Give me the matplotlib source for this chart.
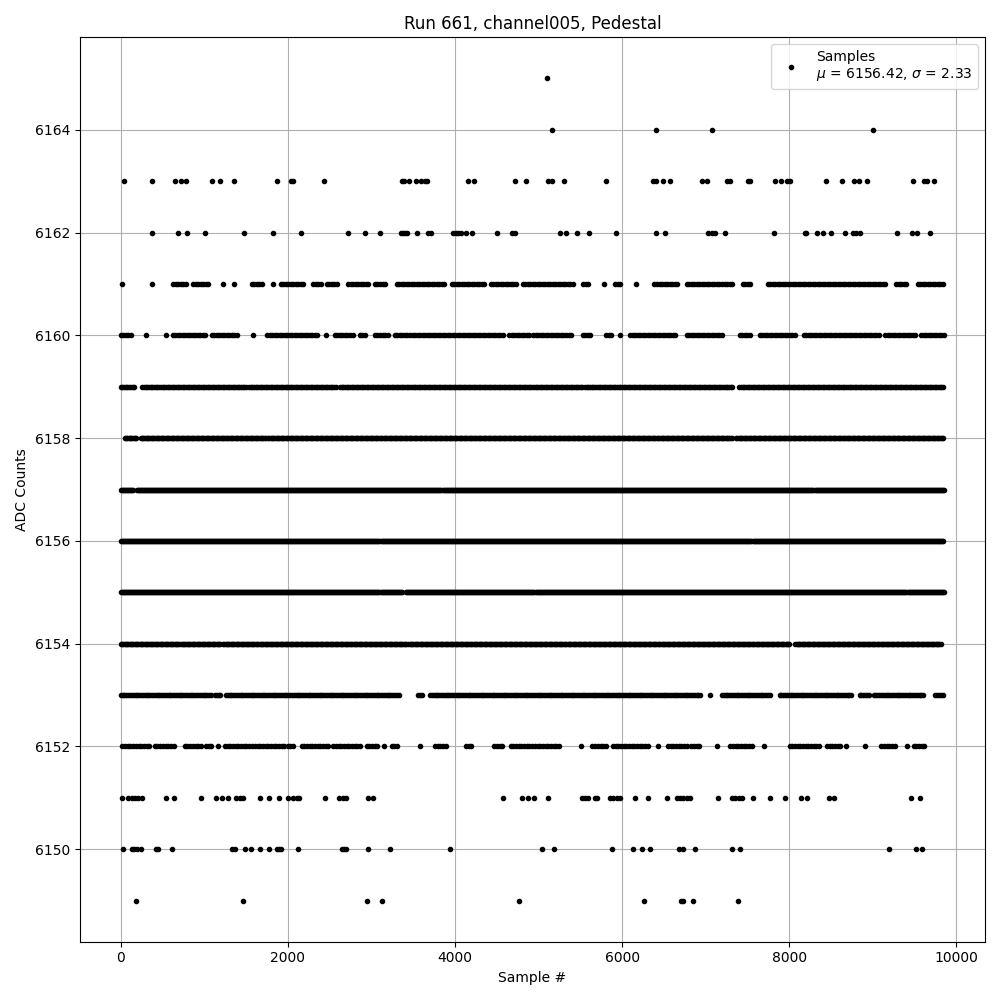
import numpy as np
from matplotlib import pyplot as plt

# ADC levels with isolated samples (sample numbers)
sparse = {
    6165: [5102],
    6164: [5162, 6407, 7078, 9006],
    6163: [40, 375, 650, 719, 778, 1094, 1189, 1357, 1872, 2032, 2064, 2435,
           3362, 3389, 3449, 3533, 3589, 3641, 3668, 4159, 4231, 4722, 4854,
           5117, 5158, 5309, 5812, 6375, 6407, 6483, 6575, 6954, 7014, 7254,
           7293, 7501, 7533, 7824, 7901, 7972, 8012, 8435, 8631, 8770, 8830,
           8931, 9477, 9608, 9649, 9737],
    6162: [375, 687, 795, 1010, 1477, 1824, 2160, 2722, 2926, 3106, 3350, 3374,
           3401, 3429, 3549, 3681, 3713, 3980, 4008, 4040, 4072, 4135, 4207,
           4507, 4687, 4722, 5261, 5333, 5465, 5608, 5932, 6411, 6507, 7022,
           7081, 7114, 7225, 7812, 8188, 8200, 8327, 8399, 8495, 8662, 8758,
           8802, 8850, 9285, 9465, 9525, 9680],
    6151: [16, 87, 128, 168, 207, 248, 535, 638, 955, 1142, 1213, 1285, 1377,
           1425, 1465, 1668, 1768, 1896, 2004, 2056, 2104, 2131, 2447, 2615,
           2662, 2691, 2954, 3021, 4578, 4806, 4874, 4946, 5117, 5517, 5557,
           5597, 5677, 5697, 5856, 5896, 5936, 5976, 6159, 6315, 6535, 6655,
           6695, 6734, 6774, 6814, 7142, 7314, 7353, 7393, 7433, 7561, 7764,
           7944, 8144, 8212, 8471, 8539, 9461, 9561],
    6150: [28, 135, 160, 188, 236, 419, 451, 614, 1329, 1365, 1485, 1553, 1668,
           1768, 1864, 1892, 1916, 2124, 2643, 2671, 2695, 2962, 3225, 3940,
           5046, 5190, 5884, 6135, 6240, 6339, 6683, 6734, 6866, 7309, 7405,
           9189, 9517, 9584],
    6149: [176, 1465, 2950, 3122, 4770, 6267, 6707, 6734, 6842, 7381],
}

# ADC levels that are filled densely: runs of sample numbers (start, end)
runs = {
    6161: [(16, 16), (375, 375), (626, 786), (866, 1058), (1226, 1226),
           (1357, 1357), (1565, 1704), (1824, 1824), (1912, 2204), (2303, 2403),
           (2463, 2583), (2722, 2982), (3042, 3182), (3302, 3880), (3960, 4371),
           (4427, 4739), (4811, 5417), (5537, 5597), (5784, 5784), (5916, 5976),
           (6168, 6168), (6387, 6674), (6775, 7321), (7441, 7541), (7740, 9177),
           (9281, 9417), (9537, 9850)],
    6160: [(0, 140), (299, 299), (539, 539), (619, 1034), (1086, 1386),
           (1585, 1585), (1752, 2371), (2451, 2451), (2563, 2775), (2862, 2942),
           (3042, 3202), (3281, 4599), (4651, 4898), (4938, 5409), (5529, 5637),
           (5808, 5896), (5976, 5976), (6096, 6655), (6775, 7213), (7405, 7541),
           (7644, 8092), (8172, 9090), (9150, 9529), (9577, 9850)],
    6159: [(0, 160), (259, 1505), (1533, 2591), (2623, 5537), (5557, 7321),
           (7401, 9850)],
    6158: [(48, 195), (236, 1745), (1764, 7321), (7365, 9850)],
    6157: [(0, 150), (190, 9850)],
    6156: [(0, 9850)],
    6155: [(0, 3360), (3415, 9850)],
    6154: [(0, 707), (727, 1206), (1225, 3421), (3441, 8012), (8072, 9817)],
    6153: [(0, 1086), (1126, 1206), (1257, 3341), (3561, 3620), (3701, 6954),
           (7046, 7046), (7194, 7772), (7884, 8763), (8842, 8962), (9010, 9621),
           (9749, 9841)],
    6152: [(20, 347), (407, 647), (766, 985), (1018, 1105), (1165, 1165),
           (1245, 1584), (1605, 1964), (1996, 2072), (2164, 2503), (2543, 2883),
           (2943, 3081), (3153, 3153), (3242, 3333), (3581, 3581), (3760, 3913),
           (4132, 4212), (4471, 4591), (4667, 5249), (5509, 5509), (5645, 5836),
           (5889, 6315), (6435, 6435), (6547, 6775), (6826, 6942), (7134, 7134),
           (7293, 7565), (7692, 7692), (8004, 8379), (8451, 8631), (8683, 8683),
           (8902, 8902), (9102, 9269), (9409, 9409), (9489, 9621)],
}
# spacing between drawn samples inside a run (sparser levels look beaded)
step = {6161: 30, 6160: 30, 6159: 20, 6158: 15, 6157: 12, 6156: 12,
        6155: 12, 6154: 15, 6153: 22, 6152: 32}

xs = []
ys = []
for level, samples in sparse.items():
    xs += samples
    ys += [level] * len(samples)
for level, segs in runs.items():
    for a, b in segs:
        pts = list(range(a, b + 1, step[level]))
        xs += pts
        ys += [level] * len(pts)

plt.figure(figsize=(10, 10), dpi=100)
plt.plot(xs, ys, 'k.', label='Samples\n$\\mu$ = 6156.42, $\\sigma$ = 2.33')
plt.title('Run 661, channel005, Pedestal')
plt.xlabel('Sample #')
plt.ylabel('ADC Counts')
plt.grid(True)
plt.legend(loc='upper right')
plt.tight_layout()
plt.savefig('out.png')
